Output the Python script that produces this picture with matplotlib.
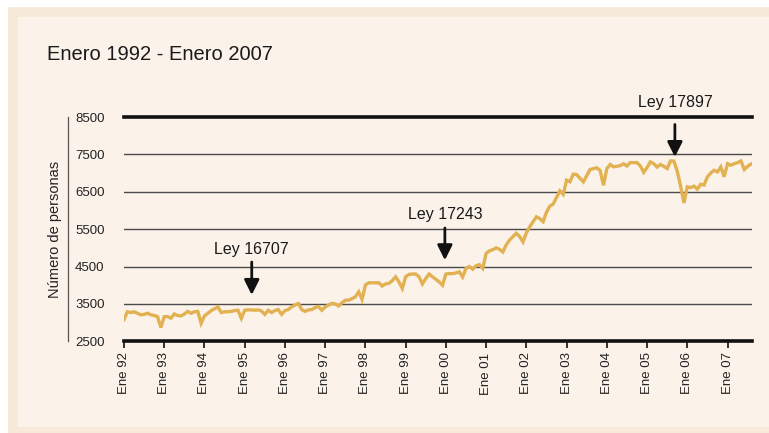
import matplotlib
matplotlib.use("Agg")
import matplotlib.pyplot as plt
from matplotlib.patches import Rectangle
from matplotlib.lines import Line2D

plt.rcParams['font.family'] = ['Liberation Sans Narrow', 'Liberation Sans', 'DejaVu Sans']

# Monthly values, Jan 1992 .. Aug 2007
v1992 = [3080, 3290, 3270, 3290, 3250, 3210, 3220, 3250, 3210, 3190, 3160, 2870]
v1993 = [3160, 3160, 3120, 3230, 3190, 3180, 3230, 3300, 3250, 3290, 3300, 2980]
v1994 = [3180, 3250, 3320, 3370, 3420, 3270, 3290, 3290, 3300, 3320, 3330, 3115]
v1995 = [3330, 3340, 3340, 3330, 3340, 3310, 3220, 3330, 3270, 3320, 3350, 3220]
v1996 = [3320, 3350, 3420, 3470, 3510, 3350, 3300, 3340, 3350, 3400, 3430, 3330]
v1997 = [3420, 3470, 3515, 3500, 3445, 3530, 3600, 3600, 3640, 3690, 3825, 3620]
v1998 = [4005, 4065, 4065, 4065, 4065, 3980, 4035, 4050, 4120, 4225, 4090, 3915]
v1999 = [4225, 4290, 4300, 4300, 4225, 4035, 4180, 4300, 4225, 4160, 4090, 4000]
v2000 = [4300, 4310, 4310, 4330, 4360, 4220, 4450, 4500, 4430, 4520, 4550, 4450]
v2001 = [4850, 4920, 4950, 5000, 4960, 4890, 5080, 5210, 5300, 5390, 5300, 5160]
v2002 = [5400, 5560, 5700, 5830, 5780, 5700, 5950, 6115, 6170, 6350, 6525, 6430]
v2003 = [6810, 6770, 6970, 6960, 6860, 6765, 6930, 7095, 7120, 7140, 7070, 6675]
v2004 = [7120, 7230, 7170, 7180, 7200, 7250, 7190, 7280, 7280, 7280, 7190, 7020]
v2005 = [7150, 7300, 7250, 7160, 7230, 7180, 7120, 7325, 7320, 7050, 6650, 6200]
v2006 = [6630, 6610, 6650, 6570, 6700, 6680, 6900, 7000, 7075, 7030, 7165, 6900]
v2007 = [7250, 7210, 7250, 7280, 7325, 7095, 7180, 7240]

values = (v1992 + v1993 + v1994 + v1995 + v1996 + v1997 + v1998 + v1999 +
          v2000 + v2001 + v2002 + v2003 + v2004 + v2005 + v2006 + v2007)
months = list(range(len(values)))

tick_labels = ["Ene 92", "Ene 93", "Ene 94", "Ene 95", "Ene 96", "Ene 97", "Ene 98",
               "Ene 99", "Ene 00", "Ene 01", "Ene 02", "Ene 03", "Ene 04", "Ene 05",
               "Ene 06", "Ene 07"]
tick_pos = [12 * i for i in range(len(tick_labels))]
y_ticks = [2500, 3500, 4500, 5500, 6500, 7500, 8500]

# annotations: label, month, arrow tip value, arrow tail value, label base value
ann_labels = ["Ley 16707", "Ley 17243", "Ley 17897"]
ann_month = [38.1, 95.7, 164.3]
ann_tip = [3740, 4670, 7430]
ann_tail = [4620, 5530, 8300]
ann_text_y = [4750, 5690, 8690]

W, H = 769, 433
fig = plt.figure(figsize=(W / 100, H / 100), dpi=100, facecolor='white')

# background panels
fig.patches.append(Rectangle((8 / W, 0), 1 - 8 / W, 1 - 7 / H, transform=fig.transFigure,
                             facecolor='#F7EAD8', edgecolor='none', zorder=-10))
fig.patches.append(Rectangle((18 / W, 6 / H), 1 - 18 / W, 1 - 17 / H - 6 / H,
                             transform=fig.transFigure,
                             facecolor='#FBF3E9', edgecolor='none', zorder=-9))

left, right = 124 / W, 752 / W
bottom, top = 1 - 341.3 / H, 1 - 117 / H
ax = fig.add_axes([left, bottom, right - left, top - bottom])
ax.set_facecolor('none')

for y in y_ticks:
    if y in (2500, 8500):
        ax.axhline(y, color='#111111', lw=2.6, zorder=2, clip_on=False)
    else:
        ax.axhline(y, color='#4a4a4a', lw=1.0, zorder=1)

ax.plot(months, values, color='#E2B152', lw=2.4, solid_joinstyle='miter', zorder=3)

ax.set_xlim(0, 187.3)
ax.set_ylim(2500, 8500)
for s in ax.spines.values():
    s.set_visible(False)

ax.set_yticks(y_ticks)
ax.set_yticklabels([str(y) for y in y_ticks], fontsize=9.5, color='#222222')
ax.tick_params(axis='y', length=0, pad=14)
ax.set_xticks(tick_pos)
ax.set_xticklabels(tick_labels, rotation=90, fontsize=9.5, color='#222222', va='top')
ax.tick_params(axis='x', length=5, width=1.2, color='#111111', pad=3)

for lab, mx, tip, tail, ty in zip(ann_labels, ann_month, ann_tip, ann_tail, ann_text_y):
    ax.annotate('', xy=(mx, tip), xytext=(mx, tail),
                arrowprops=dict(arrowstyle='-|>,head_length=0.9,head_width=0.45',
                                color='#111111', lw=2.0, shrinkA=0, shrinkB=0),
                annotation_clip=False, zorder=5)
    ax.text(mx, ty, lab, ha='center', va='bottom', fontsize=11.5,
            color='#1a1a1a', clip_on=False, zorder=5)

# left thin vertical line
fig.add_artist(Line2D([68 / W, 68 / W], [bottom, top], transform=fig.transFigure,
                      color='#555555', lw=0.9))

fig.text(55 / W, (bottom + top) / 2, 'Número de personas', rotation=90,
         ha='center', va='center', fontsize=10.5, color='#222222')

fig.text(47 / W, 1 - 60 / H, 'Enero 1992 - Enero 2007', ha='left', va='baseline',
         fontsize=14.5, color='#1a1a1a')

fig.savefig('out.png', dpi=100, facecolor=fig.get_facecolor())
